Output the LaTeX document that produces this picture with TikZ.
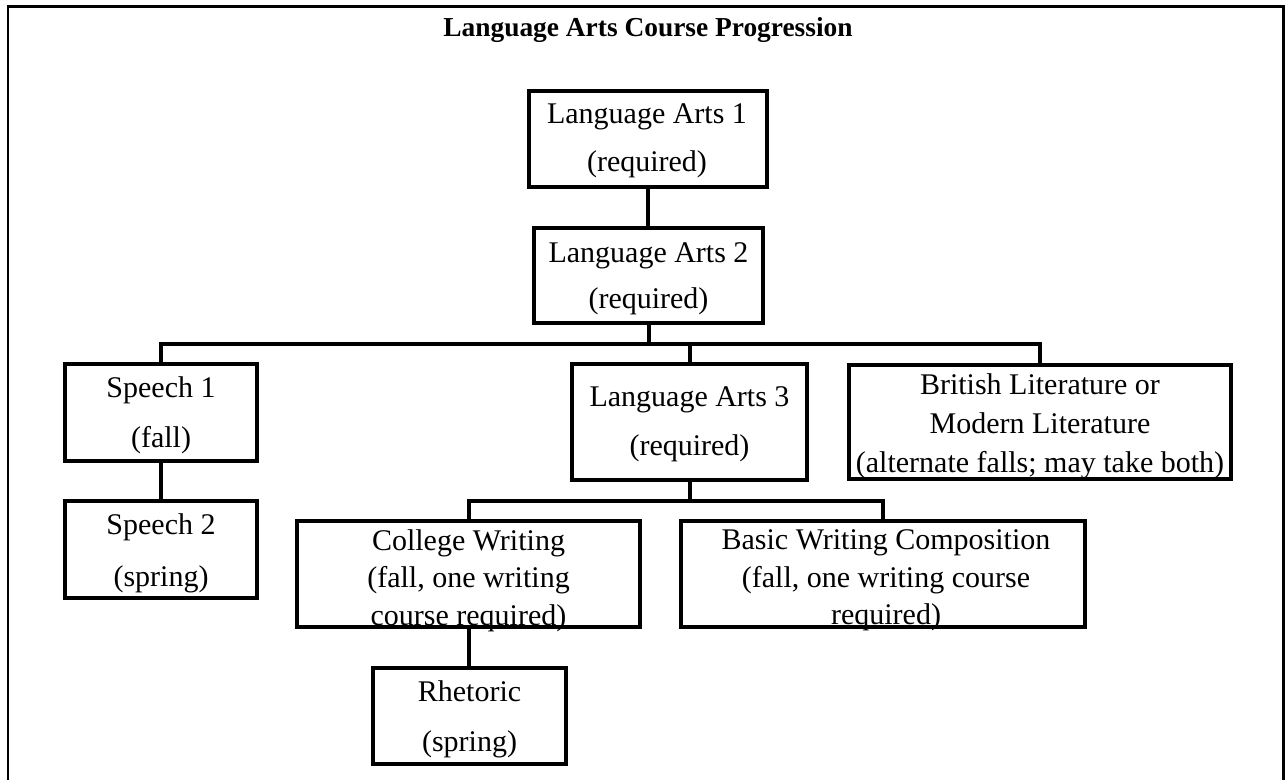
\documentclass[tikz,border=0pt]{standalone}
\usepackage{fontspec}
\setmainfont{Liberation Serif}
\begin{document}
\begin{tikzpicture}[x=1pt,y=-1pt,
  box/.style n args={2}{draw, line width=4pt, inner sep=0pt, minimum width=#1, minimum height=#2},
  txt/.style={align=center, inner sep=0pt, font=\fontsize{30}{#1}\selectfont},
  conn/.style={line width=4pt},
  frame/.style={line width=2.2pt}]
\useasboundingbox (0,0) rectangle (1285,780);
\draw[frame] (8,780) -- (8,6.5) -- (1283.5,6.5) -- (1283.5,780);
\node[font=\bfseries\fontsize{27.4}{30}\selectfont, inner sep=0pt] (title) at (648,30) {Language Arts Course Progression};
% boxes
\node[box={238}{96}] (la1) at (648,139) {};
\node[box={229}{95}] (la2) at (648.5,275.5) {};
\node[box={192}{97}] (s1) at (161,412.5) {};
\node[box={235}{116}] (la3) at (689.5,422) {};
\node[box={382}{114}] (brit) at (1040,422) {};
\node[box={192}{97}] (s2) at (161,549.5) {};
\node[box={343}{106}] (cw) at (468.5,574) {};
\node[box={404}{106}] (bwc) at (883,574) {};
\node[box={193}{96}] (rh) at (469.5,716) {};
% texts
\node[txt=48] (la1t) at (647,141) {Language Arts 1\\(required)};
\node[txt=46] (la2t) at (648.5,278.5) {Language Arts 2\\(required)};
\node[txt=50] (s1t) at (161,415) {Speech 1\\(fall)};
\node[txt=49] (la3t) at (689.5,424.5) {Language Arts 3\\(required)};
\node[txt=39] (britt) at (1040,426) {British Literature or\\Modern Literature\\(alternate falls; may take both)};
\node[txt=52] (s2t) at (161,553.5) {Speech 2\\(spring)};
\node[txt=37.5] (cwt) at (468.5,580.5) {College Writing\\(fall, one writing\\course required)};
\node[txt=37.5] (bwct) at (886,580.5) {Basic Writing Composition\\(fall, one writing course\\required)};
\node[txt=50] (rht) at (469.5,719) {Rhetoric\\(spring)};
% connectors
\coordinate (b1) at (0,344);
\coordinate (b2) at (0,501);
\draw[conn] (la1.south) -- (la1.south |- la2.north);
\draw[conn] (la2.south) -- (la2.south |- b1);
\draw[conn] (s1.north) -- (s1.north |- b1) -- (brit.north |- b1) -- (brit.north);
\draw[conn] (la3.north) -- (la3.north |- b1);
\draw[conn] (s1.south) -- (s2.north);
\draw[conn] (la3.south) -- (la3.south |- b2);
\draw[conn] (cw.north) -- (cw.north |- b2) -- (bwc.north |- b2) -- (bwc.north);
\draw[conn] (cw.south) -- (cw.south |- rh.north);
\end{tikzpicture}
\end{document}
